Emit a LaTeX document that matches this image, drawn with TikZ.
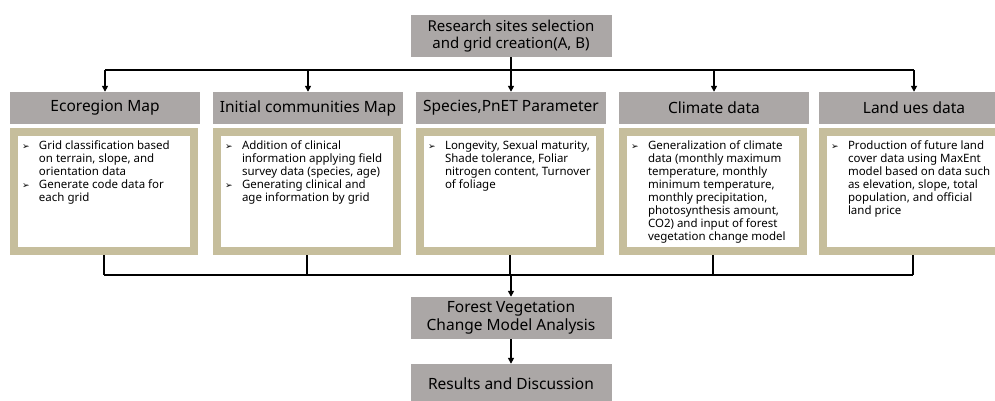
\documentclass[tikz,border=0pt]{standalone}
\usepackage{fontspec}
\setmainfont{Noto Sans}
\newfontfamily\symfont{DejaVu Sans}
\usetikzlibrary{positioning,arrows.meta}
\definecolor{headgray}{RGB}{171,167,166}
\definecolor{tanframe}{RGB}{198,190,156}
\newcommand{\bitem}{\par\noindent\hangindent=17pt\hangafter=1\makebox[17pt][l]{\symfont\fontsize{9}{9}\selectfont ➢}}
\newcommand{\nl}{\hfil\break}
\newcommand{\bodytext}[1]{\parbox[t][101pt][t]{164pt}{\fontsize{11.5}{12.9}\selectfont\raggedright #1}}
\tikzset{
  header/.style={fill=headgray, minimum width=190pt, minimum height=32pt, inner sep=0pt,
    font=\fontsize{15.5}{17}\selectfont},
  body/.style={draw=tanframe, line width=8pt, fill=white, inner sep=8pt, outer sep=4pt,
    minimum width=180pt, minimum height=119pt},
  flowbox/.style={fill=headgray, minimum width=201pt, minimum height=42pt, align=center, inner sep=0pt},
  arr/.style={-{Triangle[width=6pt,length=6pt]}, line width=1.6pt},
  link/.style={line width=1.6pt}
}

\begin{document}
\begin{tikzpicture}[x=1pt,y=-1pt]
    \useasboundingbox (0,0) rectangle (995,401);
    \clip (0,0) rectangle (995,401);

    % Start box
    \node[flowbox, font=\fontsize{15}{17}\selectfont] (sites) at (511,36)
        {Research sites selection\\and grid creation(A, B)};

    % Input headers
    \foreach \n/\x/\title in {1/105/Ecoregion Map, 2/308/Initial communities Map,
        3/511/{Species,PnET Parameter}, 4/714/Climate data, 5/914/Land ues data} {
        \node[header] (h\n) at (\x,108) {\title};
    }

    % Input contents
    \node[body] (b1) at (104,191.5) {\bodytext{%
        \bitem Grid classification based\nl on terrain, slope, and\nl orientation data
        \bitem Generate code data for\nl each grid}};
    \node[body] (b2) at (307,191.5) {\bodytext{%
        \bitem Addition of clinical\nl information applying field\nl survey data (species, age)
        \bitem Generating clinical and\nl age information by grid}};
    \node[body] (b3) at (510,191.5) {\bodytext{%
        \bitem Longevity, Sexual maturity,\nl Shade tolerance, Foliar\nl nitrogen content, Turnover\nl of foliage}};
    \node[body] (b4) at (713,191.5) {\bodytext{%
        \bitem Generalization of climate\nl data (monthly maximum\nl temperature, monthly\nl minimum temperature,\nl monthly precipitation,\nl photosynthesis amount,\nl CO2) and input of forest\nl vegetation change model}};
    \node[body] (b5) at (913,191.5) {\bodytext{%
        \bitem Production of future land\nl cover data using MaxEnt\nl model based on data such\nl as elevation, slope, total\nl population, and official\nl land price}};

    % Analysis boxes
    \node[flowbox, font=\fontsize{15.5}{18}\selectfont] (model) at (511,318)
        {Forest Vegetation\\Change Model Analysis};
    \node[flowbox, minimum height=40pt, font=\fontsize{15.5}{18}\selectfont] (results) at (511,384)
        {Results and Discussion};

    % Connectors
    \coordinate (split) at (511,70);
    \coordinate (merge) at (511,275);
    \draw[link] (sites) -- (split);
    \draw[link] (split -| h1) -- (split -| h5);
    \foreach \n in {1,...,5} {
        \draw[arr] (split -| h\n) -- (h\n.north);
        \draw[link] (b\n.south) -- (merge -| b\n);
    }
    \draw[link] (merge -| b1) -- (merge -| b5);
    \draw[arr] (merge) -- (model);
    \draw[arr] (model) -- (results);
\end{tikzpicture}
\end{document}
